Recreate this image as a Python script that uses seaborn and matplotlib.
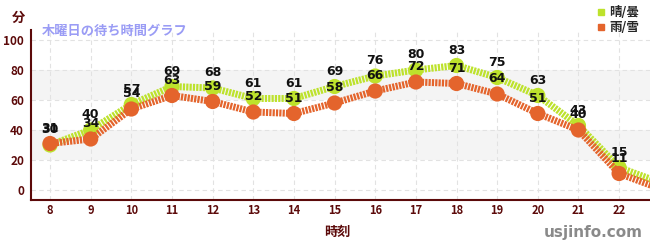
import matplotlib
matplotlib.use("Agg")
import matplotlib.pyplot as plt
from matplotlib.lines import Line2D
import seaborn as sns
import pandas as pd
import numpy as np

hours = [8, 9, 10, 11, 12, 13, 14, 15, 16, 17, 18, 19, 20, 21, 22, 23]
sunny = [30, 40, 57, 69, 68, 61, 61, 69, 76, 80, 83, 75, 63, 43, 15, 5]
rainy = [31, 34, 54, 63, 59, 52, 51, 58, 66, 72, 71, 64, 51, 40, 11, 1]
series_names = ["晴/曇", "雨/雪"]
title = "木曜日の待ち時間グラフ"
ylabel = "分"
xlabel = "時刻"
watermark = "usjinfo.com"
xticks = list(range(8, 23))
yticks = [0, 20, 40, 60, 80, 100]

GREEN = "#bde22c"
ORANGE = "#e4642c"
DARKRED = "#5c0a0a"

sns.set_theme(style="white")
plt.rcParams["font.family"] = ["Noto Sans CJK JP", "DejaVu Sans"]

df = pd.DataFrame({"hour": hours, "sunny": sunny, "rainy": rainy})
pts = df[df["hour"] <= 22]

fig = plt.figure(figsize=(6.5, 2.5), dpi=100)
ax = fig.add_axes([31 / 650, 50 / 250, 619 / 650, 170 / 250])

ax.set_xlim(7.532, 22.76)
ax.set_ylim(-6.67, 106.67)

# background bands
for lo, hi in [(20, 40), (60, 80)]:
    ax.axhspan(lo, hi, color="#f4f4f4", zorder=0, lw=0)

# grid
for x in xticks:
    ax.axvline(x, color="#e2e2e2", lw=0.8, ls=(0, (4, 3)), zorder=0.5)
for y in yticks:
    ax.axhline(y, color="#e2e2e2", lw=0.8, ls=(0, (4, 3)), zorder=0.5)

dash = (0, (0.32, 0.16))
for col, color, z in [("sunny", GREEN, 2), ("rainy", ORANGE, 4)]:
    sns.lineplot(data=df, x="hour", y=col, ax=ax, color=color, lw=5,
                 zorder=z, legend=False)
    ax.lines[-1].set_linestyle(dash)
    sns.scatterplot(data=pts, x="hour", y=col, ax=ax, color=color, s=120,
                    edgecolor="none", zorder=z + 0.5, legend=False)

for col in ["sunny", "rainy"]:
    for h, v in zip(pts["hour"], pts[col]):
        ax.annotate(str(v), (h, v), xytext=(0, 11), textcoords="offset points",
                    ha="center", va="center", fontsize=9, fontweight="bold",
                    color="#111111", family="DejaVu Sans", zorder=10)

ax.set_xticks(xticks)
ax.set_xticklabels([str(x) for x in xticks])
ax.set_yticks(yticks)
ax.set_yticks([10, 30, 50, 70, 90], minor=True)
ax.tick_params(axis="x", colors=DARKRED, labelsize=8, direction="in", length=4,
               width=1, pad=3)
ax.tick_params(axis="y", which="major", colors="#222222", labelcolor=DARKRED,
               labelsize=8.5, direction="inout", length=6, width=1, pad=2)
ax.tick_params(axis="y", which="minor", colors="#dd2222", direction="out",
               length=3, width=1)
for lab in ax.get_xticklabels() + ax.get_yticklabels():
    lab.set_fontweight("bold")
ax.set_xlabel("")
ax.set_ylabel("")

for s in ["top", "right"]:
    ax.spines[s].set_visible(False)
for s in ["left", "bottom"]:
    ax.spines[s].set_color(DARKRED)
    ax.spines[s].set_linewidth(1.5)

fig.text(42 / 650, 1 - 31 / 250, title, color="#9a9cf5", fontsize=9.5,
         fontweight="bold", ha="left", va="center")
fig.text(18 / 650, 1 - 18 / 250, ylabel, color=DARKRED, fontsize=9.5,
         fontweight="bold", ha="center", va="center")
fig.text(337 / 650, 1 - 232 / 250, xlabel, color=DARKRED, fontsize=9.5,
         fontweight="bold", ha="center", va="center")
fig.text(593 / 650, 1 - 232 / 250, watermark, color="#8a8a8a", fontsize=11,
         fontweight="bold", ha="center", va="center", family="DejaVu Sans")

handles = [Line2D([], [], marker="s", ls="none", color=GREEN, markersize=5),
           Line2D([], [], marker="s", ls="none", color=ORANGE, markersize=5)]
fig.legend(handles, series_names, loc="upper right",
           bbox_to_anchor=(1.0, 1.02), frameon=False, fontsize=9,
           handlelength=0.6, handletextpad=0.3, labelspacing=0.15,
           prop={"weight": "bold", "size": 9})

fig.savefig("out.png", dpi=100)
